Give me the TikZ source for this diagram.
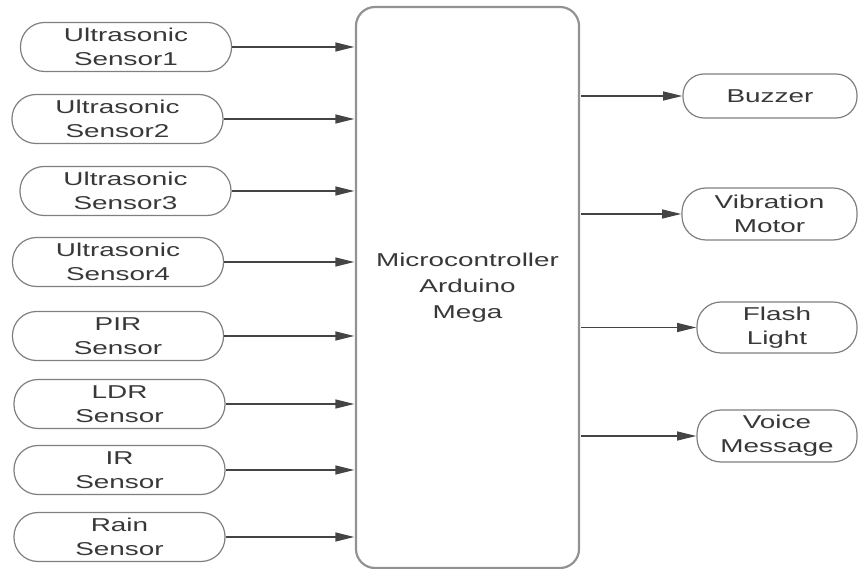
\documentclass[tikz,border=0pt]{standalone}
\usepackage{fontspec}
\setmainfont{Liberation Sans}
\usetikzlibrary{arrows.meta}
\definecolor{BDline}{HTML}{444444}
\definecolor{BDedge}{HTML}{7F7F7F}
\definecolor{BDtext}{HTML}{383838}
\tikzset{devbox/.style={draw=BDedge,line width=1.2pt,rounded corners=24pt,transform shape,
 align=center,minimum height=49pt,minimum width=140.7pt,inner sep=0pt,text=BDtext,
 font=\fontsize{18.6}{24}\selectfont},
 mcubox/.style={draw=BDedge!85,line width=2.2pt,rounded corners=19pt,transform shape,
 align=center,minimum width=148.7pt,minimum height=561pt,inner sep=0pt,text=BDtext,
 font=\fontsize{18.6}{26}\selectfont},
 sigarr/.style={-{Triangle[length=19pt,width=9pt]},line width=1.3pt,draw=BDline}}
\begin{document}
\begin{tikzpicture}[x=0.66667pt,y=-1pt,xscale=1.5]
\useasboundingbox (0,0) rectangle (858,569);
\node[mcubox] (mcu) at (467.5,287.5) {Microcontroller\\Arduino\\Mega};
% inputs
\node[devbox] (us1) at (126,47) {Ultrasonic\\Sensor1};
\node[devbox] (us2) at (117.5,119) {Ultrasonic\\Sensor2};
\node[devbox] (us3) at (125.5,191) {Ultrasonic\\Sensor3};
\node[devbox] (us4) at (118,262) {Ultrasonic\\Sensor4};
\node[devbox] (pir) at (118,336) {PIR\\Sensor};
\node[devbox] (ldr) at (119.5,404) {LDR\\Sensor};
\node[devbox] (ir) at (119.5,470) {IR\\Sensor};
\node[devbox] (rain) at (119.5,537) {Rain\\Sensor};
% outputs
\node[devbox,minimum width=116pt,minimum height=44pt,rounded corners=21pt] (buzz) at (770,96) {Buzzer};
\node[devbox,minimum width=116.7pt,minimum height=52pt] (vib) at (769.5,214) {Vibration\\Motor};
\node[devbox,minimum width=106.7pt,minimum height=51pt] (flash) at (777,327.5) {Flash\\Light};
\node[devbox,minimum width=106.7pt,minimum height=52pt] (voice) at (777,436) {Voice\\Message};
\foreach \n in {us1,us2,us3,us4,pir,ldr,ir,rain}
 \draw[sigarr] (\n) -- (\n -| mcu.west);
\foreach \n in {buzz,vib,flash,voice}
 \draw[sigarr] (mcu.east |- \n.west) -- (\n.west);
\end{tikzpicture}
\end{document}
